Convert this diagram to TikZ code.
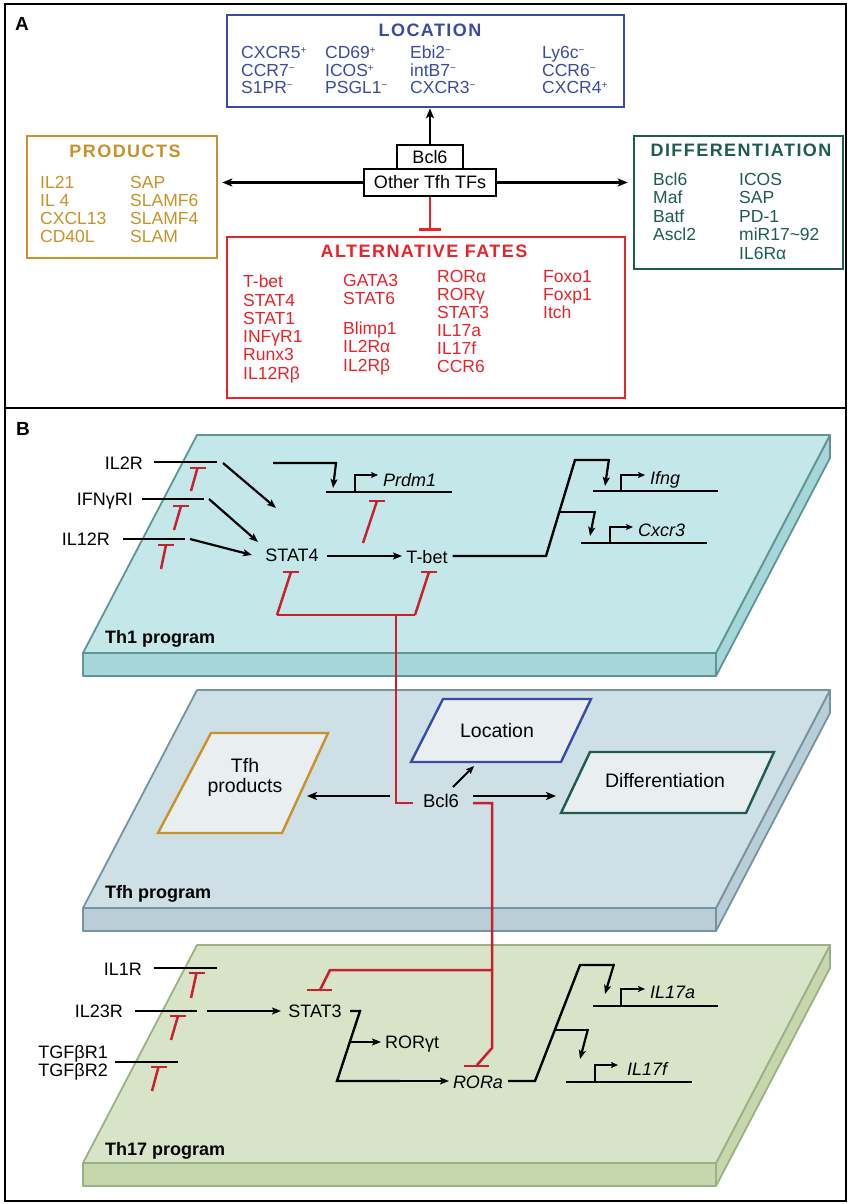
\documentclass[tikz,border=0pt]{standalone}
\usepackage{fontspec}
\setmainfont{Liberation Sans}
\newfontfamily\ttlfont{Liberation Sans}[LetterSpace=8]
\usetikzlibrary{arrows.meta}
\definecolor{locblue}{RGB}{59,75,165}
\definecolor{prodgold}{RGB}{200,146,43}
\definecolor{diffteal}{RGB}{30,92,82}
\definecolor{altred}{RGB}{232,36,43}
\definecolor{inhred}{RGB}{200,32,47}
\definecolor{thatop}{RGB}{196,232,234}
\definecolor{thaside}{RGB}{166,214,215}
\definecolor{thaedge}{RGB}{95,149,149}
\definecolor{tfhtop}{RGB}{206,223,229}
\definecolor{tfhside}{RGB}{185,206,215}
\definecolor{tfhedge}{RGB}{117,147,160}
\definecolor{thbtop}{RGB}{216,228,200}
\definecolor{thbside}{RGB}{198,215,174}
\definecolor{thbedge}{RGB}{156,176,131}
\definecolor{boxfill}{RGB}{233,238,240}
\newcommand\drawslab[4]{%
  \filldraw[fill=#3,draw=#4,line width=1.8pt,line join=round] (83,{#1+218}) -- (716,{#1+218}) -- (716,{#1+241}) -- (83,{#1+241}) -- cycle;
  \filldraw[fill=#3,draw=#4,line width=1.8pt,line join=round] (716,{#1+218}) -- (830,#1) -- (830,{#1+23}) -- (716,{#1+241}) -- cycle;
  \filldraw[fill=#2,draw=#4,line width=1.8pt,line join=round] (197,#1) -- (830,#1) -- (716,{#1+218}) -- (83,{#1+218}) -- cycle;
}
\newcommand\inhib[4]{%
  \draw[inh] ({#1-8},#2) -- ({#1+8},#2);
  \draw[inh] (#1,#2) -- (#3,#4);
}
\newcommand\sps[1]{\raisebox{0.55ex}{\fontsize{10}{10}\selectfont #1}}
\begin{document}
\begin{tikzpicture}[x=1pt,y=-1pt,
  txt/.style={inner sep=0pt, font=\fontsize{17.5}{18}\selectfont, anchor=base west},
  btxt/.style={inner sep=0pt, font=\fontsize{18}{20}\selectfont},
  gene/.style={inner sep=0pt, font=\fontsize{18}{20}\selectfont\itshape},
  ptxt/.style={inner sep=0pt, font=\fontsize{19.5}{20}\selectfont, align=center},
  ttl/.style={inner sep=0pt, font=\fontsize{18}{20}\ttlfont\bfseries},
  panel/.style={inner sep=0pt, font=\fontsize{19}{20}\selectfont\bfseries},
  prog/.style={inner sep=0pt, font=\fontsize{18}{20}\selectfont\bfseries, anchor=base west},
  abox/.style={draw, line width=2.6pt, inner sep=0pt},
  tfbox/.style={draw, line width=1.5pt, inner sep=0pt, font=\fontsize{18}{20}\selectfont, fill=white},
  arr/.style={line width=2.4pt, -{Stealth[length=10pt,width=8pt,inset=2.5pt]}},
  marr/.style={line width=2.2pt, -{Stealth[length=9pt,width=7pt,inset=2pt]}},
  sarr/.style={line width=2pt, -{Stealth[length=7pt,width=6pt,inset=1.5pt]}},
  wire/.style={line width=2.4pt},
  inh/.style={line width=2.5pt, inhred},
  pgram/.style={line width=2.4pt, fill=boxfill, line join=miter},
]
\useasboundingbox (0,0) rectangle (849,1204);
\fill[white] (0,0) rectangle (849,1204);
\draw[line width=2.5pt] (5,4) rectangle (846,1201);
\draw[line width=2.5pt] (5,408) -- (846,408);

% ---------------- Panel A ----------------
\node[panel] (labA) at (22,24) {A};

\node[abox, draw=locblue, minimum width=397pt, minimum height=92pt] (locbox) at (425.5,61) {};
\node[ttl, text=locblue] (loctitle) at (430,30) {LOCATION};
\foreach \t [count=\i] in {CXCR5\sps{+},CCR7\sps{−},S1PR\sps{−}}
  \node[txt, text=locblue] (locA\i) at (241,{59+17.5*(\i-1)}) {\t};
\foreach \t [count=\i] in {CD69\sps{+},ICOS\sps{+},PSGL1\sps{−}}
  \node[txt, text=locblue] (locB\i) at (325,{59+17.5*(\i-1)}) {\t};
\foreach \t [count=\i] in {Ebi2\sps{−},intB7\sps{−},CXCR3\sps{−}}
  \node[txt, text=locblue] (locC\i) at (410,{59+17.5*(\i-1)}) {\t};
\foreach \t [count=\i] in {Ly6c\sps{−},CCR6\sps{−},CXCR4\sps{+}}
  \node[txt, text=locblue] (locD\i) at (542,{59+17.5*(\i-1)}) {\t};

\node[abox, draw=prodgold, minimum width=190pt, minimum height=122pt] (prodbox) at (122,197) {};
\node[ttl, text=prodgold] (prodtitle) at (125,151) {PRODUCTS};
\foreach \t [count=\i] in {IL21,IL 4,CXCL13,CD40L}
  \node[txt, text=prodgold] (prodA\i) at (40,{188+18*(\i-1)}) {\t};
\foreach \t [count=\i] in {SAP,SLAMF6,SLAMF4,SLAM}
  \node[txt, text=prodgold] (prodB\i) at (130,{188+18*(\i-1)}) {\t};

\node[abox, draw=diffteal, minimum width=209pt, minimum height=133pt] (diffbox) at (738.5,202.5) {};
\node[ttl, text=diffteal] (difftitle) at (741,150) {DIFFERENTIATION};
\foreach \t [count=\i] in {Bcl6,Maf,Batf,Ascl2}
  \node[txt, text=diffteal] (diffA\i) at (653,{185+18.5*(\i-1)}) {\t};
\foreach \t [count=\i] in {ICOS,SAP,PD-1,miR17\char`~92,IL6Rα}
  \node[txt, text=diffteal] (diffB\i) at (739,{185+18.5*(\i-1)}) {\t};

\node[abox, draw=altred, minimum width=398pt, minimum height=161pt] (altbox) at (426,317.5) {};
\node[ttl, text=altred] (alttitle) at (424,251) {ALTERNATIVE FATES};
\foreach \t [count=\i] in {T-bet,STAT4,STAT1,INFγR1,Runx3,IL12Rβ}
  \node[txt, text=altred] (altA\i) at (243,{287.7+18.3*(\i-1)}) {\t};
\foreach \t [count=\i] in {GATA3,STAT6}
  \node[txt, text=altred] (altB\i) at (343,{286+18.5*(\i-1)}) {\t};
\foreach \t [count=\i] in {Blimp1,IL2Rα,IL2Rβ}
  \node[txt, text=altred] (altC\i) at (343,{334+18.5*(\i-1)}) {\t};
\foreach \t [count=\i] in {RORα,RORγ,STAT3,IL17a,IL17f,CCR6}
  \node[txt, text=altred] (altD\i) at (437,{282.7+18*(\i-1)}) {\t};
\foreach \t [count=\i] in {Foxo1,Foxp1,Itch}
  \node[txt, text=altred] (altE\i) at (543,{282.7+18*(\i-1)}) {\t};

\node[tfbox, minimum width=66pt, minimum height=24pt] (bcl6box) at (430,157) {Bcl6};
\node[tfbox, minimum width=132pt, minimum height=27pt] (otherbox) at (430,182.5) {Other Tfh TFs};
\draw[arr] (bcl6box.north) -- (bcl6box.north |- locbox.south);
\draw[arr, shorten >=4pt] (otherbox.west) -- (otherbox.west -| prodbox.east);
\draw[arr, shorten >=5pt] (otherbox.east) -- (otherbox.east -| diffbox.west);
\draw[line width=2.4pt, altred] (otherbox.south) -- ++(0,33) coordinate (inhA);
\draw[line width=2.8pt, altred] ([xshift=-11pt]inhA) -- ([xshift=11pt]inhA);

% ---------------- Panel B ----------------
\node[panel] (labB) at (23,429) {B};

\drawslab{435}{thatop}{thaside}{thaedge}
\drawslab{690}{tfhtop}{tfhside}{tfhedge}
\drawslab{945}{thbtop}{thbside}{thbedge}

\node[prog] (th1lab) at (105,643) {Th1 program};
\node[prog] (tfhlab) at (105,898) {Tfh program};
\node[prog] (th17lab) at (105,1155) {Th17 program};

% Th1 program
\node[btxt, anchor=base east] (il2r) at (143,469.5) {IL2R};
\node[btxt, anchor=base east] (ifngr) at (133,505.5) {IFNγRI};
\node[btxt, anchor=base east] (il12r) at (110,545.5) {IL12R};
\node[btxt, anchor=base] (stat4) at (292,561.5) {STAT4};
\node[btxt, anchor=base] (tbet) at (427,563.5) {T-bet};
\node[gene, anchor=base west] (prdm1) at (383,486.5) {Prdm1};
\node[gene, anchor=base west] (ifng) at (650,484.5) {Ifng};
\node[gene, anchor=base west] (cxcr3) at (638,536.5) {Cxcr3};

\draw[wire] (154,462) coordinate (il2rA) -- (217,462) coordinate (il2rB);
\draw[marr] (223,463) coordinate (il2rC) -- (276,508) coordinate (il2rD);
\draw[wire] (142,499) coordinate (ifnA) -- (204,499) coordinate (ifnB);
\draw[marr] (209,499) coordinate (ifnC) -- (258,542) coordinate (ifnD);
\draw[wire] (123,539) coordinate (il12A) -- (185,539) coordinate (il12B);
\draw[marr] (190,539) coordinate (il12C) -- (252,555) coordinate (il12D);
\draw[marr] (stat4.east |- 0,556) ++(8,0) -- (402,556);

\draw[marr] (273,463) coordinate (prA) -- (336,463) -- (333,488) coordinate (prB);
\draw[wire] (326,492) coordinate (prg1) -- (452,492) coordinate (prg2);
\draw[sarr] (355,493) -- (355,475) -- (378,475);

\draw[wire] (tbet.east |- 0,556) ++(5,0) coordinate (tbA) -- (546,556) -- (575,460) -- (609,460);
\draw[marr] (609,459) -- (605,486) coordinate (tbB);
\draw[wire] (593,491) coordinate (ifg1) -- (718,491) coordinate (ifg2);
\draw[sarr] (621,492) -- (621,475) -- (645,475);
\draw[wire] (559,512) coordinate (brA) -- (595,512);
\draw[marr] (595,511) -- (590,536) coordinate (brB);
\draw[wire] (581,543) coordinate (cxg1) -- (707,543) coordinate (cxg2);
\draw[sarr] (610,544) -- (610,527) -- (633,527);

\inhib{197.5}{468}{191}{491}
\inhib{181}{506}{174}{530}
\inhib{166}{545}{161}{569}
\inhib{377}{501}{363}{543}
\inhib{291}{572}{277}{615}
\inhib{429}{572}{415}{615}
\draw[inh, line join=miter] (277,615) -- (415,615);

% Tfh program
\filldraw[pgram, draw=prodgold] (211,733) -- (328,733) -- (282,833) -- (158,833) -- cycle;
\filldraw[pgram, draw=locblue] (443,699) -- (591,699) -- (561,762) -- (411,762) -- cycle;
\filldraw[pgram, draw=diffteal] (590,752) -- (774,752) -- (746,813) -- (561,813) -- cycle;
\node[ptxt] (tfhprod) at (245,777) {Tfh\\products};
\node[ptxt] (tfhloc) at (497,731) {Location};
\node[ptxt] (tfhdiff) at (665,781) {Differentiation};
\node[inner sep=0pt, font=\fontsize{18.5}{20}\selectfont] (bcl6) at (441,801) {Bcl6};
\draw[arr] (390,796) coordinate (bcA) -- (307,796);
\draw[arr] (473,796) coordinate (bcB) -- (556,796);
\draw[line width=2pt, -{Stealth[length=8pt,width=6.5pt,inset=1.5pt]}] (453,787) coordinate (bcC) -- (474,766);

\draw[inh, line join=miter] (396,615) -- (396,803) -- (413,803);
\draw[inh, line join=miter] (473,803) -- (492,803) -- (492,1048) -- (477,1065);
\draw[inh] (464,1066) -- (489,1066);
\draw[inh, line join=miter] (492,970) -- (330,970) -- (320,990);
\draw[inh] (307,990) -- (332,990);

% Th17 program
\node[btxt, anchor=base east] (il1r) at (142,975.5) {IL1R};
\node[btxt, anchor=base east] (il23r) at (123,1017.5) {IL23R};
\node[btxt, anchor=base east] (tgfb1) at (108,1058.5) {TGFβR1};
\node[btxt, anchor=base east] (tgfb2) at (108,1076.5) {TGFβR2};
\node[btxt, anchor=base] (stat3) at (315,1017.5) {STAT3};
\node[btxt, anchor=base west] (rorgt) at (385,1048.5) {RORγt};
\node[gene, anchor=base] (rora) at (478,1088.5) {RORa};
\node[gene, anchor=base west] (il17a) at (650,998) {IL17a};
\node[gene, anchor=base west] (il17f) at (627,1075) {IL17f};

\draw[wire] (154,968) coordinate (il1A) -- (217,968);
\draw[wire] (135,1011) coordinate (il23A) -- (197,1011);
\draw[marr] (207,1011) -- (281,1011);
\draw[wire] (115,1062) coordinate (tgA) -- (178,1062);

\draw[wire, line join=miter] (350,1011) -- (360,1011) -- (337,1081) -- (400,1081);
\draw[marr] (399,1081) -- (449,1081);
\draw[marr] (350,1042) -- (381,1042);

\draw[wire, line join=miter] (508,1081) -- (535,1081) -- (580,965) -- (614,965);
\draw[marr] (614,964) -- (605,994);
\draw[wire] (593,1006) -- (718,1006);
\draw[sarr] (621,1007) -- (621,989) -- (645,989);
\draw[wire] (555,1030) -- (588,1030);
\draw[marr] (588,1029) -- (580,1059);
\draw[wire] (566,1082) -- (692,1082);
\draw[sarr] (595,1083) -- (595,1065) -- (618,1065);

\inhib{196.5}{973}{191}{998}
\inhib{178}{1016}{171}{1040}
\inhib{158.5}{1067}{152}{1091}
\end{tikzpicture}
\end{document}
